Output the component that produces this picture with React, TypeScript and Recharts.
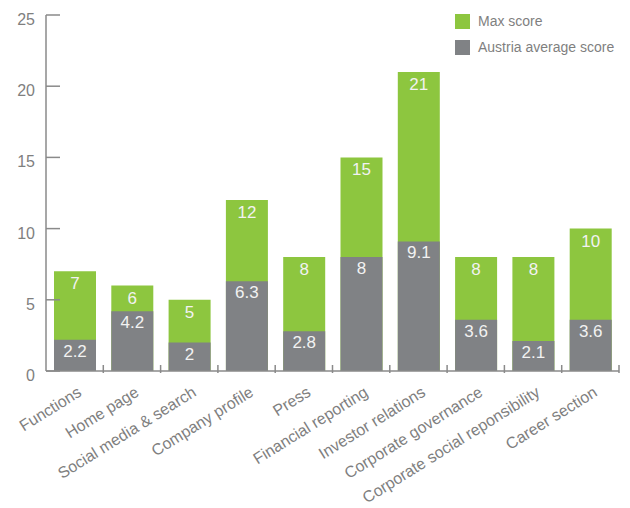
import React from 'react';
import { BarChart, Bar, XAxis, YAxis, LabelList } from 'recharts';

const categories = [
    'Functions',
    'Home page',
    'Social media & search',
    'Company profile',
    'Press',
    'Financial reporting',
    'Investor relations',
    'Corporate governance',
    'Corporate social reponsibility',
    'Career section',
];
const maxScores = [7, 6, 5, 12, 8, 15, 21, 8, 8, 10];
const avgScores = [2.2, 4.2, 2, 6.3, 2.8, 8, 9.1, 3.6, 2.1, 3.6];
const yTicks = [0, 5, 10, 15, 20, 25];

const GREEN = '#8dc63f';
const GREY = '#808285';
const AXIS = '#8a8a8a';
const TEXT = '#7f7f7f';
const FONT = '"Liberation Sans", Arial, sans-serif';

const data = categories.map((name, i) => ({ name, max: maxScores[i], avg: avgScores[i] }));

// y ticks point into the plot, label sits a bit below the tick
const YTick = ({ x, y, payload }: any) => (
    <g>
        <line x1={x + 11} x2={x + 25} y1={y} y2={y} stroke={AXIS} strokeWidth={1.5} />
        <text x={x} y={y + 10} textAnchor="end" fill={TEXT} fontSize={16} fontFamily={FONT}>
            {payload.value}
        </text>
    </g>
);

// x ticks: short upward mark on the right edge of each band + rotated label
const XTick = ({ x, y, payload }: any) => {
    const half = payload.offset ?? 28.65;
    const edge = x + half;
    const tx = x + 8;
    const ty = y + 22;
    return (
        <g>
            <line x1={edge} x2={edge} y1={y} y2={y - 8} stroke={AXIS} strokeWidth={1.5} />
            <text
                x={tx}
                y={ty}
                textAnchor="end"
                fill={TEXT}
                fontSize={16}
                fontFamily={FONT}
                transform={`rotate(-32, ${tx}, ${ty})`}
            >
                {payload.value}
            </text>
        </g>
    );
};

const legendItems = [
    { label: 'Max score', color: GREEN },
    { label: 'Austria average score', color: GREY },
];

const App = () => (
    <div style={{ position: 'absolute', left: 0, top: 0, width: 630, height: 508, background: '#fff' }}>
        <BarChart
            width={630}
            height={508}
            data={data}
            margin={{ top: 15, right: 11, left: 0, bottom: 17 }}
            barSize={42}
        >
            <XAxis
                dataKey="name"
                interval={0}
                height={120}
                tickLine={false}
                tickSize={0}
                tick={<XTick />}
                axisLine={{ stroke: AXIS, strokeWidth: 1.5 }}
            />
            <XAxis xAxisId="over" dataKey="name" hide />
            <YAxis
                width={46}
                domain={[0, 25]}
                ticks={yTicks}
                tickLine={false}
                tickSize={0}
                tickMargin={11}
                tick={<YTick />}
                axisLine={{ stroke: AXIS, strokeWidth: 1.5 }}
            />
            <Bar dataKey="max" fill={GREEN} isAnimationActive={false}>
                <LabelList dataKey="max" position="insideTop" offset={6} fill="#f2f2f2" fontSize={17} fontFamily={FONT} />
            </Bar>
            <Bar dataKey="avg" xAxisId="over" fill={GREY} isAnimationActive={false}>
                <LabelList dataKey="avg" position="insideTop" offset={5} fill="#f2f2f2" fontSize={17} fontFamily={FONT} />
            </Bar>
        </BarChart>
        <div style={{ position: 'absolute', left: 455, top: 8, fontFamily: FONT, fontSize: 14, color: TEXT }}>
            {legendItems.map((it) => (
                <div key={it.label} style={{ display: 'flex', alignItems: 'center', height: 26 }}>
                    <span style={{ width: 15, height: 15, background: it.color, marginRight: 8, display: 'inline-block' }} />
                    {it.label}
                </div>
            ))}
        </div>
    </div>
);

export default App;
